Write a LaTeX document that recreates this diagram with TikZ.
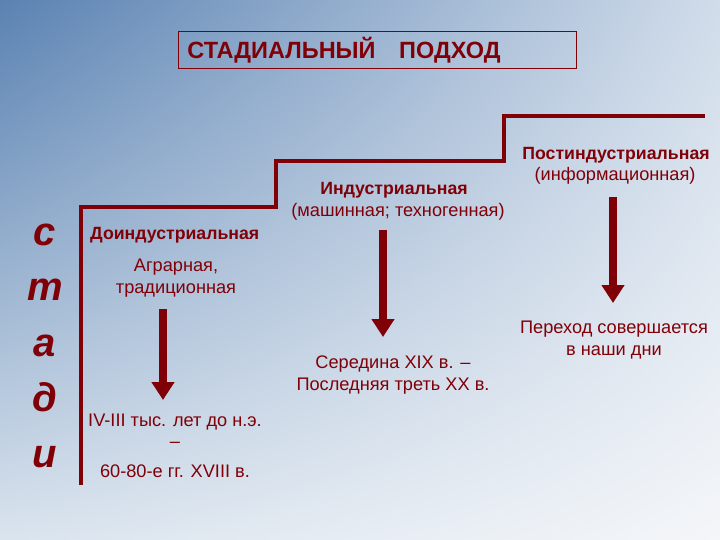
\documentclass[tikz,border=0pt]{standalone}
\usepackage{fontspec}
\setmainfont{Liberation Sans}
\usetikzlibrary{arrows.meta,positioning,calc,shadings}
\definecolor{StageRed}{RGB}{128,0,8}
\definecolor{BgA}{RGB}{90,130,178}
\definecolor{BgB}{RGB}{208,220,234}
\definecolor{BgC}{RGB}{218,228,238}
\definecolor{BgD}{RGB}{244,246,249}
\tikzset{
  stagetext/.style={text=StageRed,align=center,inner sep=0pt,anchor=base,font=\fontsize{18.2}{21.5}\selectfont},
  stagename/.style={stagetext,font=\fontsize{17.7}{21.5}\selectfont\bfseries},
  stagearrow/.style={draw=StageRed,line width=8pt,-{Triangle[width=22pt,length=18pt]}},
  stageletter/.style={text=StageRed,inner sep=0pt,anchor=base,font=\fontsize{40}{40}\selectfont\bfseries\itshape}
}
\begin{document}
\begin{tikzpicture}[x=1pt,y=-1pt]
\useasboundingbox (0,0) rectangle (720,540);
\shade [upper left=BgA,upper right=BgB,lower left=BgC,lower right=BgD] (0,0) rectangle (720,540);
\node [draw=StageRed,line width=0.8pt,anchor=north west,inner xsep=9pt,inner ysep=0pt,minimum height=37pt,text width=380pt,align=left,text=StageRed,font=\fontsize{23.5}{26}\selectfont\bfseries] (StageTitle) at (178,31) {СТАДИАЛЬНЫЙ\ \ \ ПОДХОД};
\foreach \ch [count=\i] in {с,т,а,д,и}
  \node [stageletter] (Letter\i) at (45,{245+55.5*(\i-1)}) {\ch};
\draw [StageRed,line width=3.5pt] (81,485) -- (81,207) -- (276,207) -- (276,161) -- (504,161) -- (504,116) -- (705,116);
\node [stagename,anchor=base west] (PreIndName) at (90,240) {Доиндустриальная};
\node [stagetext] (PreIndType) at (176,293) {Аграрная,\\традиционная};
\node [stagetext] (PreIndDate) at (175,477) {IV-III тыс. лет до н.э.\\–\\[8pt]60-80-е гг. XVIII в.};
\node [stagename] (IndName) at (394,195) {Индустриальная};
\node [stagetext] (IndType) at (398,217) {(машинная; техногенная)};
\node [stagetext] (IndDate) at (393,390) {Середина XIX в. –\\Последняя треть XX в.};
\node [stagename] (PostIndName) at (616,160) {Постиндустриальная};
\node [stagetext] (PostIndType) at (615,181) {(информационная)};
\node [stagetext] (PostIndDate) at (614,355) {Переход совершается\\в наши дни};
\coordinate (PreIndFrom) at (163,309);
\coordinate (PreIndTo) at (163,400);
\coordinate (IndFrom) at (383,230);
\coordinate (IndTo) at (383,337);
\coordinate (PostIndFrom) at (613,197);
\coordinate (PostIndTo) at (613,303);
\draw [stagearrow] (PreIndFrom) -- (PreIndTo);
\draw [stagearrow] (IndFrom) -- (IndTo);
\draw [stagearrow] (PostIndFrom) -- (PostIndTo);
\end{tikzpicture}
\end{document}
